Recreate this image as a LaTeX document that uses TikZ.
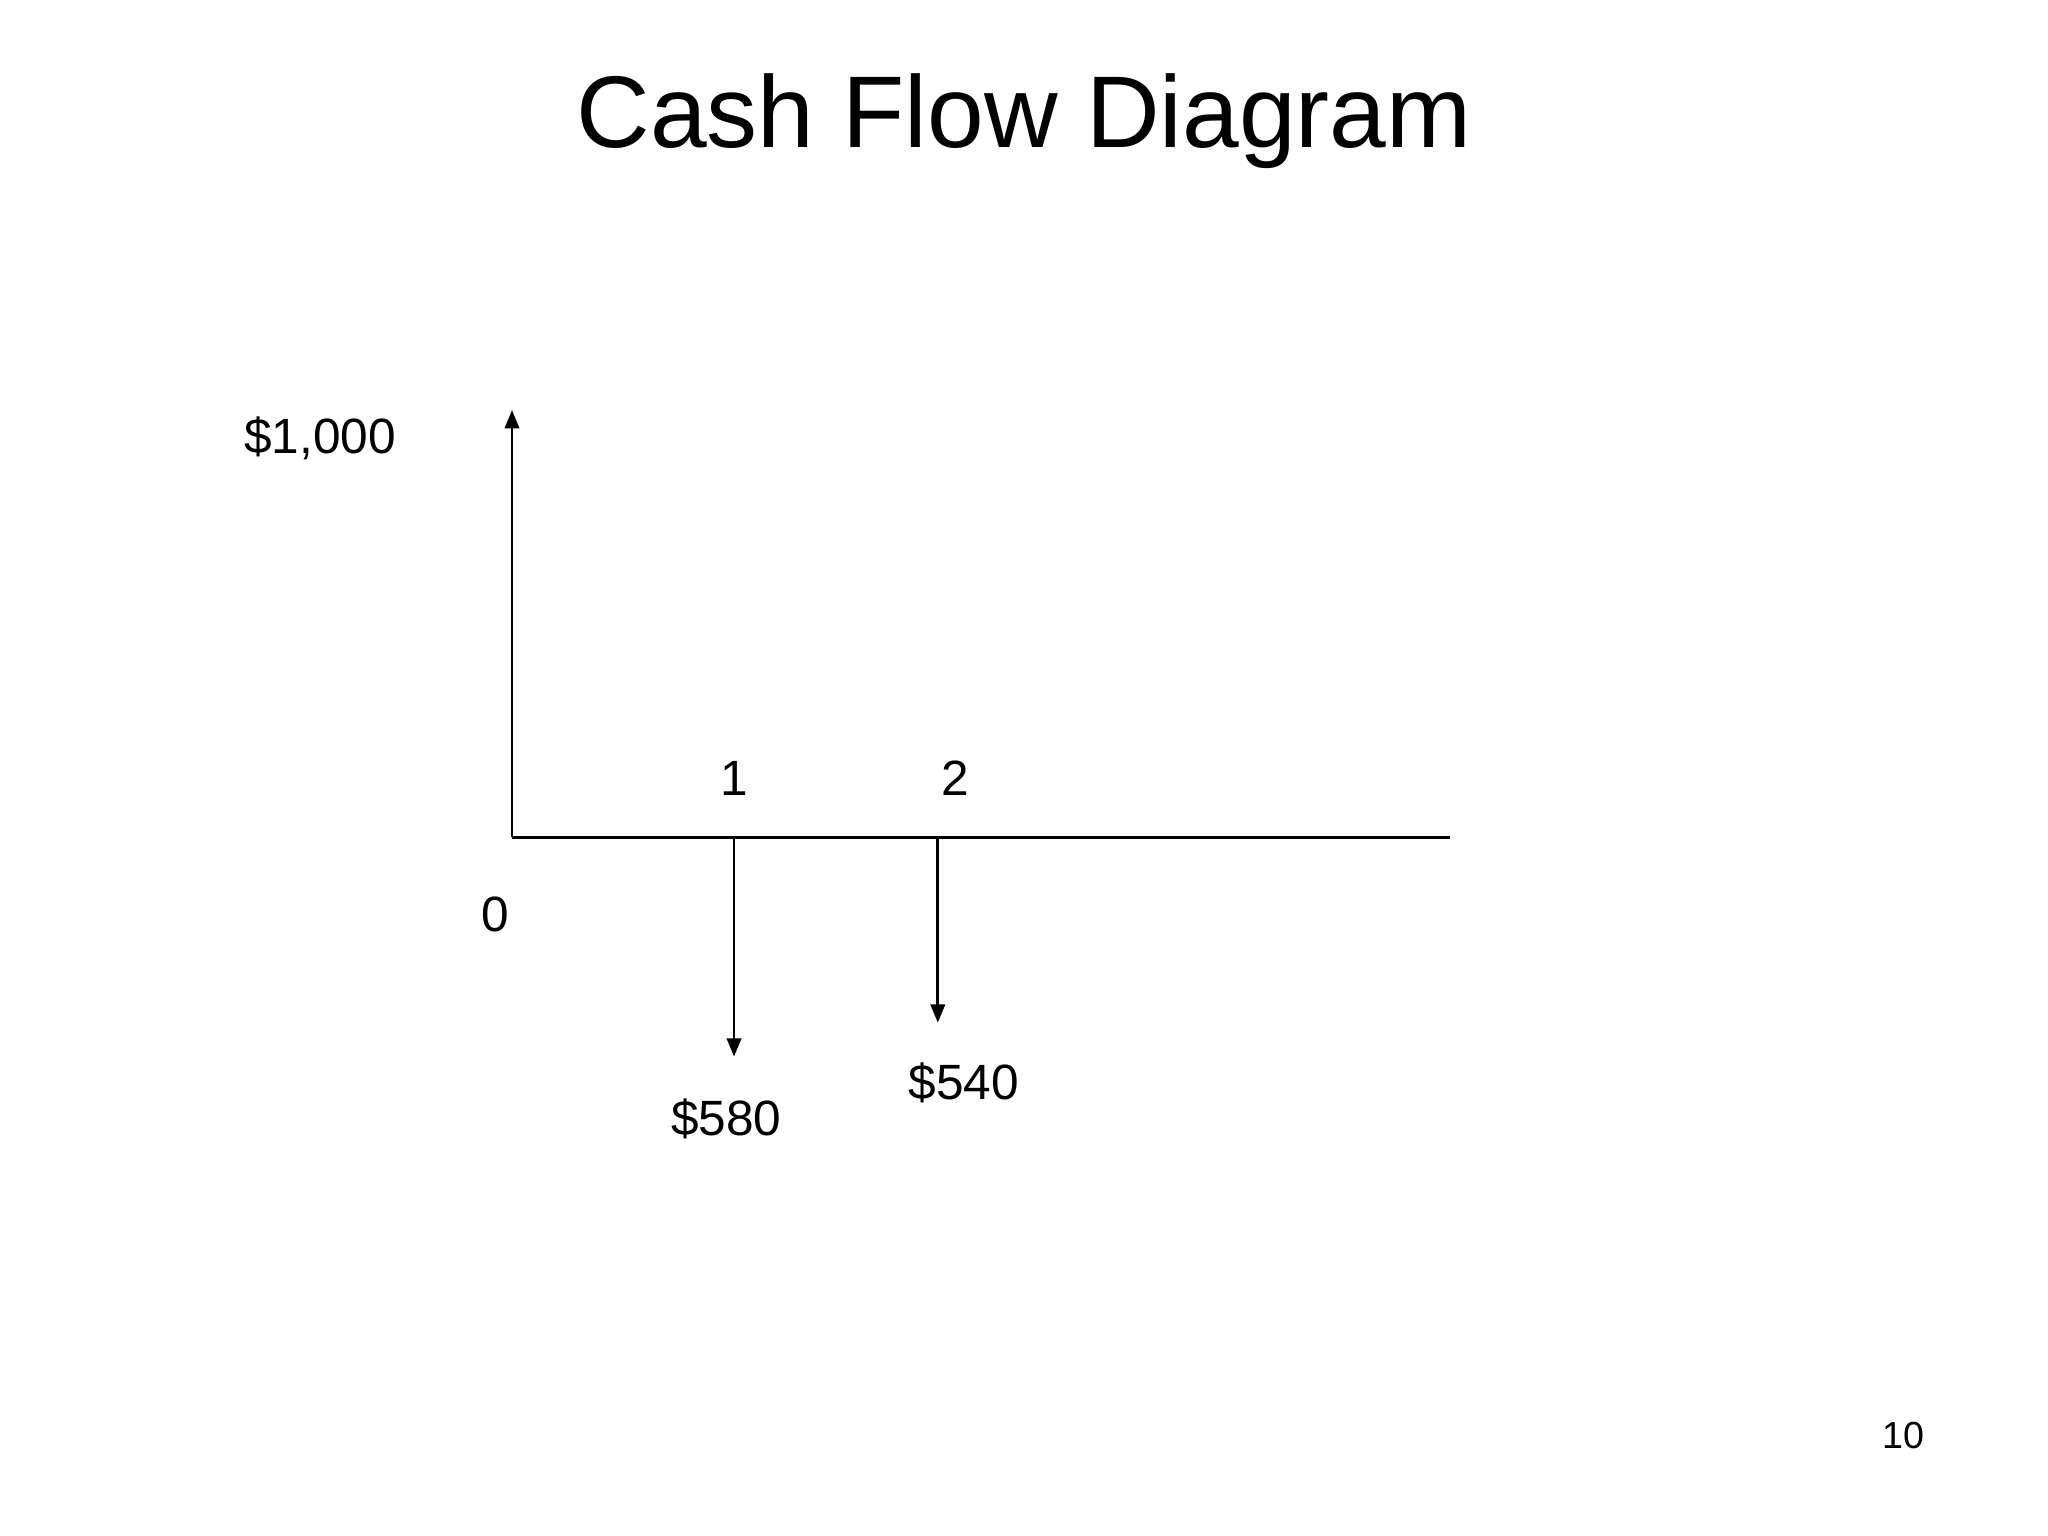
\documentclass[tikz,border=0pt]{standalone}
\usepackage{fontspec}
\setmainfont{Liberation Sans}
\usetikzlibrary{arrows.meta}

\begin{document}
\begin{tikzpicture}
   \tikzset{
     axis/.style   = { line width = 0.6pt },
     flow/.style   = { line width = 0.6pt,
                       -{Triangle[length = 0.14cm, width = 0.11cm]} },
     amount/.style = { font      = \fontsize{10.8}{13}\selectfont,
                       anchor    = base,
                       inner sep = 0pt },
     heading/.style = { font      = \fontsize{22.2}{26}\selectfont,
                        anchor    = base,
                        inner sep = 0pt },
     pageno/.style = { font      = \fontsize{8.2}{10}\selectfont,
                       anchor    = base,
                       inner sep = 0pt },
  }

    \useasboundingbox (0,0) rectangle (15.68,11.76);

    \node [heading] (Title) at (7.84,10.63) {Cash Flow Diagram};

    % time line and periods
    \coordinate (Origin)  at (3.92,5.35);
    \coordinate (AxisEnd) at (11.10,5.35);
    \coordinate (Year1)   at (5.62,5.35);
    \coordinate (Year2)   at (7.18,5.35);

    % ends of the cash flows
    \coordinate (Loan)    at (3.92,8.62);
    \coordinate (Pay1)    at (5.62,3.67);
    \coordinate (Pay2)    at (7.18,3.93);

    \draw [axis] (Origin) -- (AxisEnd);
    \draw [flow] (Origin) -- (Loan);
    \draw [flow] (Year1) -- (Pay1);
    \draw [flow] (Year2) -- (Pay2);

    \node [amount] (LoanLabel)  at (2.45,8.29) {\$1,000};
    \node [amount] (ZeroLabel)  at (3.79,4.63) {0};
    \node [amount] (OneLabel)   at (5.62,5.67) {1};
    \node [amount] (TwoLabel)   at (7.31,5.67) {2};
    \node [amount] (Pay1Label)  at (5.56,3.07) {\$580};
    \node [amount] (Pay2Label)  at (7.38,3.34) {\$540};

    \node [pageno] (Page) at (14.57,0.67) {10};

\end{tikzpicture}
\end{document}
